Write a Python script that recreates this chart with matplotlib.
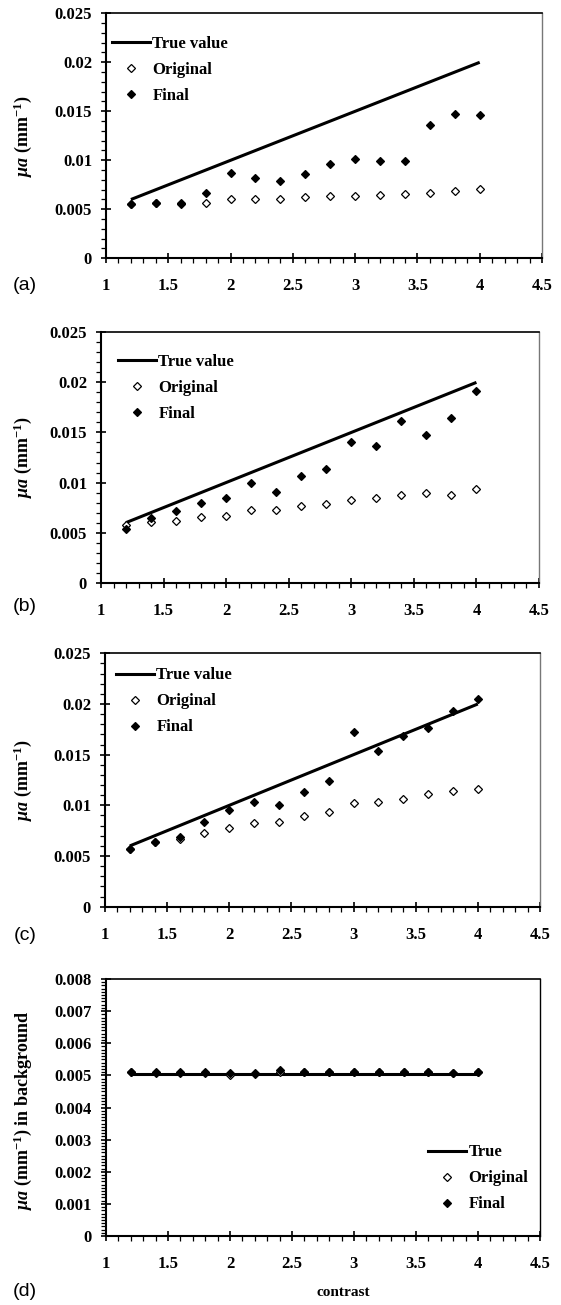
import matplotlib
matplotlib.use("Agg")
import matplotlib.pyplot as plt
from matplotlib.ticker import MultipleLocator, FixedLocator, FixedFormatter
from matplotlib.lines import Line2D

plt.rcParams['font.family'] = ['Liberation Serif', 'DejaVu Serif']
plt.rcParams['font.weight'] = 'bold'
plt.rcParams['mathtext.fontset'] = 'custom'
plt.rcParams['mathtext.rm'] = 'Liberation Serif:bold'
plt.rcParams['mathtext.it'] = 'Liberation Serif:italic'
plt.rcParams['mathtext.bf'] = 'Liberation Serif:bold'

# ---------------- data ----------------
contrast = [1.2, 1.4, 1.6, 1.8, 2.0, 2.2, 2.4, 2.6, 2.8, 3.0, 3.2, 3.4, 3.6, 3.8, 4.0]

true_a = [0.006, 0.007, 0.008, 0.009, 0.010, 0.011, 0.012, 0.013, 0.014, 0.015, 0.016, 0.017, 0.018, 0.019, 0.020]
orig_a = [0.0055, 0.0056, 0.0056, 0.00566, 0.0060, 0.0060, 0.0060, 0.00624, 0.00634, 0.00634, 0.00648, 0.00658, 0.00668, 0.00682, 0.00703]
final_a = [0.00549, 0.00566, 0.00556, 0.00668, 0.00873, 0.00822, 0.00788, 0.00863, 0.00958, 0.0101, 0.00996, 0.00996, 0.01364, 0.01473, 0.0146]

true_b = [0.006, 0.007, 0.008, 0.009, 0.010, 0.011, 0.012, 0.013, 0.014, 0.015, 0.016, 0.017, 0.018, 0.019, 0.020]
orig_b = [0.00572, 0.00606, 0.00616, 0.00653, 0.00666, 0.00727, 0.00727, 0.00764, 0.00784, 0.00824, 0.00845, 0.00878, 0.00892, 0.00878, 0.00935]
final_b = [0.00532, 0.00643, 0.00713, 0.00797, 0.00845, 0.00996, 0.00908, 0.01067, 0.0114, 0.01403, 0.01363, 0.01612, 0.01477, 0.01649, 0.01911]

true_c = [0.006, 0.007, 0.008, 0.009, 0.010, 0.011, 0.012, 0.013, 0.014, 0.015, 0.016, 0.017, 0.018, 0.019, 0.020]
orig_c = [0.0057, 0.0064, 0.00668, 0.0073, 0.00776, 0.00826, 0.00836, 0.00895, 0.00931, 0.01026, 0.01036, 0.01066, 0.01112, 0.01145, 0.01158]
final_c = [0.00566, 0.00638, 0.00691, 0.00836, 0.00954, 0.01036, 0.01003, 0.01132, 0.0124, 0.0172, 0.01536, 0.01684, 0.0176, 0.01934, 0.02053]

true_d = [0.00504, 0.00504, 0.00504, 0.00504, 0.00504, 0.00504, 0.00504, 0.00504, 0.00504, 0.00504, 0.00504, 0.00504, 0.00504, 0.00504, 0.00504]
orig_d = [0.0051, 0.00508, 0.00508, 0.00508, 0.00502, 0.00503, 0.0051, 0.0051, 0.0051, 0.0051, 0.0051, 0.0051, 0.0051, 0.00507, 0.0051]
final_d = [0.00512, 0.00512, 0.00511, 0.00512, 0.00508, 0.00508, 0.00517, 0.00512, 0.00512, 0.00511, 0.00511, 0.00511, 0.00511, 0.00508, 0.00512]

x_ticks = [1, 1.5, 2, 2.5, 3, 3.5, 4, 4.5]
x_tick_labels = ['1', '1.5', '2', '2.5', '3', '3.5', '4', '4.5']
y_ticks_abc = [0, 0.005, 0.01, 0.015, 0.02, 0.025]
y_tick_labels_abc = ['0', '0.005', '0.01', '0.015', '0.02', '0.025']
y_ticks_d = [0, 0.001, 0.002, 0.003, 0.004, 0.005, 0.006, 0.007, 0.008]
y_tick_labels_d = ['0', '0.001', '0.002', '0.003', '0.004', '0.005', '0.006', '0.007', '0.008']

legend_abc = ['True value', 'Original', 'Final']
legend_d = ['True', 'Original', 'Final']
panel_labels = ['(a)', '(b)', '(c)', '(d)']
ylabel_abc = r'$\mathit{\mu a}$ (mm$^{-1}$)'
ylabel_d = r'$\mathit{\mu a}$ (mm$^{-1}$) in background'
xlabel_d = 'contrast'

# ---------------- layout (pixels) ----------------
W, H = 561, 1305
fig = plt.figure(figsize=(W / 100, H / 100), dpi=100)

# (left, right, top, bottom) in pixels
boxes = [
    (106, 542, 13.3, 258.3),
    (101, 539, 332.3, 582.7),
    (105, 540, 653.3, 906.7),
    (106, 540, 979, 1236),
]
label_y = [285, 606.7, 935, 1292]
leg_pos = [
    (112, 36),
    (118, 354),
    (116, 667.5),
    (428, 1144.5),
]

series = [
    (true_a, orig_a, final_a),
    (true_b, orig_b, final_b),
    (true_c, orig_c, final_c),
    (true_d, orig_d, final_d),
]

TICK_FS = 12
MS = 4.0
for i, (box, (tv, ov, fv)) in enumerate(zip(boxes, series)):
    L, R, T, B = box
    ax = fig.add_axes([L / W, 1 - B / H, (R - L) / W, (B - T) / H])
    ax.plot(contrast, tv, color='black', lw=2.2, solid_capstyle='butt', zorder=2)
    ax.plot(contrast, ov, linestyle='none', marker='D', ms=MS, mfc='white',
            mec='black', mew=0.9, zorder=3)
    ax.plot(contrast, fv, linestyle='none', marker='D', ms=MS, mfc='black',
            mec='black', mew=0.9, zorder=4)

    ax.set_xlim(1, 4.5)
    ax.xaxis.set_major_locator(FixedLocator(x_ticks))
    ax.xaxis.set_major_formatter(FixedFormatter(x_tick_labels))
    ax.xaxis.set_minor_locator(MultipleLocator(0.1))
    if i < 3:
        ax.set_ylim(0, 0.025)
        ax.yaxis.set_major_locator(FixedLocator(y_ticks_abc))
        ax.yaxis.set_major_formatter(FixedFormatter(y_tick_labels_abc))
        ax.yaxis.set_minor_locator(MultipleLocator(0.001))
    else:
        ax.set_ylim(0, 0.008)
        ax.yaxis.set_major_locator(FixedLocator(y_ticks_d))
        ax.yaxis.set_major_formatter(FixedFormatter(y_tick_labels_d))
        ax.yaxis.set_minor_locator(MultipleLocator(0.0001))

    for s in ['left', 'bottom']:
        ax.spines[s].set_linewidth(1.5)
        ax.spines[s].set_color('black')
    ax.spines['top'].set_linewidth(1.2)
    ax.spines['top'].set_color('black')
    ax.spines['right'].set_linewidth(1.0)
    ax.spines['right'].set_color('#777777' if i < 3 else 'black')

    ax.tick_params(axis='both', which='major', direction='inout', length=7, width=1.2,
                   labelsize=TICK_FS)
    ax.tick_params(axis='both', which='minor', direction='out', length=3.5, width=0.9)
    ax.tick_params(axis='y', which='major', pad=6.5)
    ax.tick_params(axis='x', which='major', pad=11)
    for lab in ax.get_xticklabels() + ax.get_yticklabels():
        lab.set_fontweight('bold')

    ylab = ylabel_abc if i < 3 else ylabel_d
    ax.set_ylabel(ylab, fontsize=13, fontweight='bold')
    ax.yaxis.set_label_coords((34 - L) / (R - L), 0.5 if i < 3 else (B - 1110) / (B - T))

    handles = [
        Line2D([], [], color='black', lw=2.2),
        Line2D([], [], linestyle='none', marker='D', ms=MS, mfc='white', mec='black', mew=0.9),
        Line2D([], [], linestyle='none', marker='D', ms=MS, mfc='black', mec='black', mew=0.9),
    ]
    lx, ly = leg_pos[i]
    ax.legend(handles, legend_abc if i < 3 else legend_d, loc='upper left',
              bbox_to_anchor=((lx - L) / (R - L), (B - ly) / (B - T)),
              frameon=False, borderpad=0, borderaxespad=0, handlelength=2.3,
              handletextpad=0.12, labelspacing=0.6,
              prop={'family': 'Liberation Serif', 'weight': 'bold', 'size': 12})

    fig.text(25 / W, 1 - label_y[i] / H, panel_labels[i], ha='center', va='center',
             fontsize=14, fontweight='normal', family='Liberation Sans')

fig.text(343 / W, 1 - 1292 / H, xlabel_d, ha='center', va='center', fontsize=11,
         fontweight='bold')

fig.savefig('out.png', dpi=100)
